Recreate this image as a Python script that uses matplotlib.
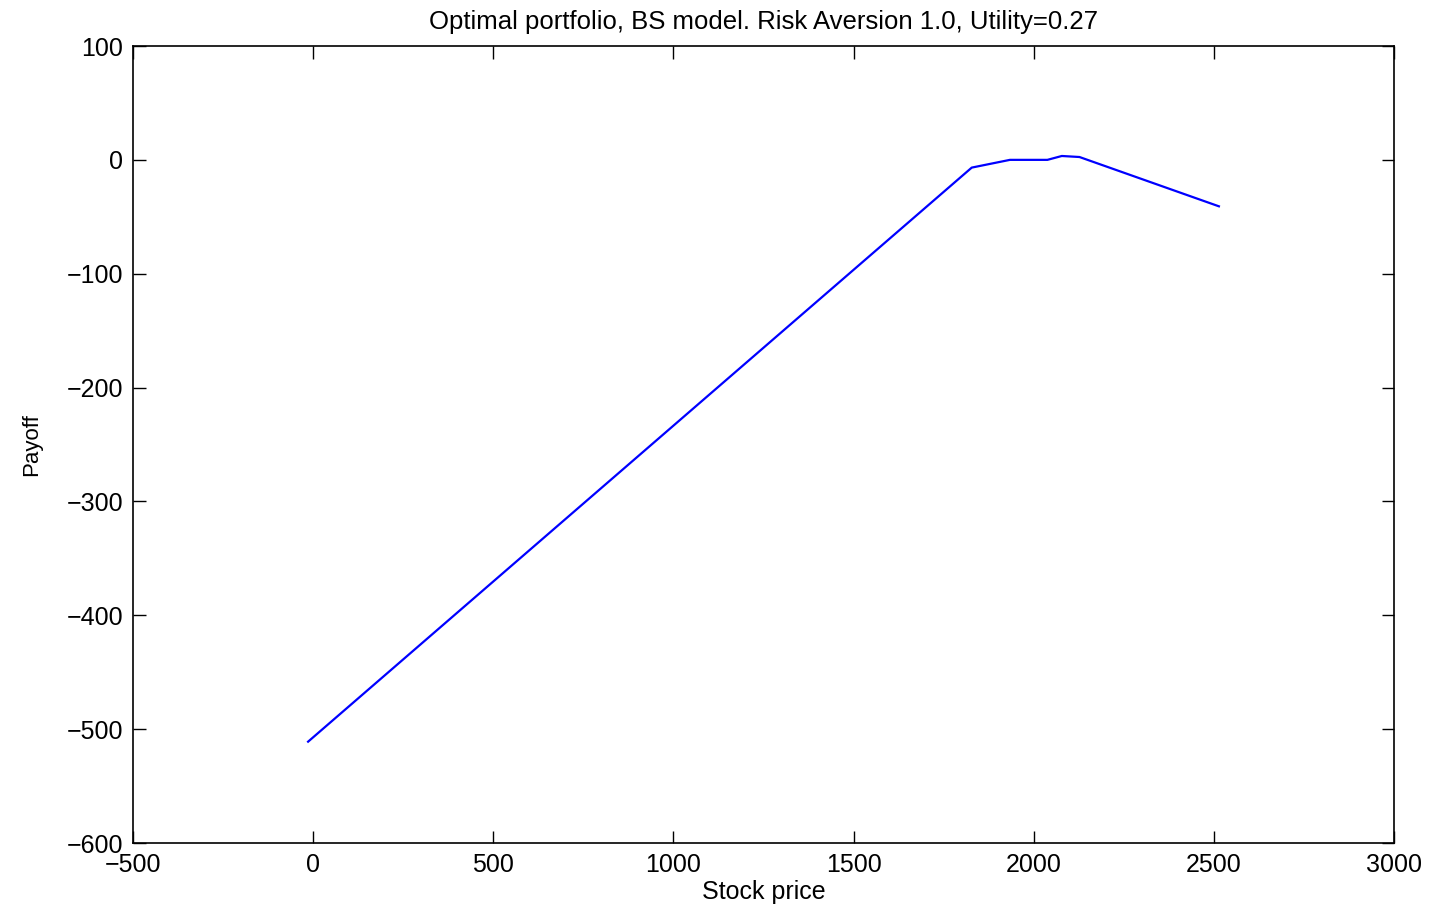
import matplotlib
matplotlib.use("Agg")
import matplotlib.pyplot as plt

# payoff of optimal portfolio
stock_price = [-14, 1828, 1934, 2038, 2078, 2127, 2514]
payoff = [-511, -6.8, 0, 0, 3.4, 2.5, -40.8]

plt.rcParams['font.family'] = ['Liberation Sans', 'DejaVu Sans']

fig = plt.figure(figsize=(14.43, 9.05), dpi=100)
ax = fig.add_axes([133/1443, 1 - 843/905, (1394-133)/1443, (843-46)/905])

ax.plot(stock_price, payoff, color='#0000ff', linewidth=1.6)

ax.set_xlim(-500, 3000)
ax.set_ylim(-600, 100)
ax.set_xticks(range(-500, 3001, 500))
ax.set_yticks(range(-600, 101, 100))
ax.tick_params(direction='in', top=True, right=True, length=9, width=1,
               labelsize=18, pad=7)
for s in ax.spines.values():
    s.set_linewidth(1.2)

ax.set_title('Optimal portfolio, BS model. Risk Aversion 1.0, Utility=0.27',
             fontsize=18.5, pad=12)
ax.set_xlabel('Stock price', fontsize=18, labelpad=2)
ax.set_ylabel('Payoff', fontsize=16, labelpad=18)

fig.savefig('out.png', dpi=100)
